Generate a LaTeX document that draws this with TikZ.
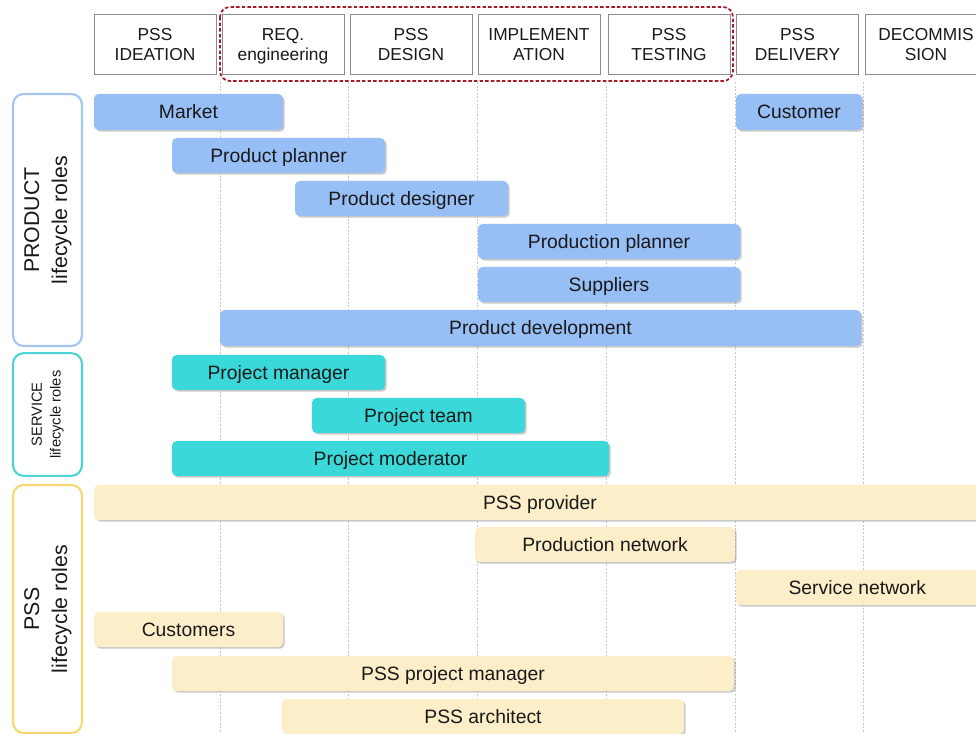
\documentclass[tikz,border=0pt]{standalone}
\usepackage{fontspec}
\setmainfont{Liberation Sans}
\usetikzlibrary{shadows}

\definecolor{barblue}{RGB}{151,191,246}
\definecolor{barteal}{RGB}{58,216,216}
\definecolor{baryellow}{RGB}{253,238,202}
\definecolor{grpblue}{RGB}{164,198,242}
\definecolor{grpteal}{RGB}{78,212,212}
\definecolor{grpyellow}{RGB}{246,216,112}
\definecolor{phaseframe}{RGB}{140,140,140}
\definecolor{gridgrey}{RGB}{200,200,200}
\definecolor{focusred}{RGB}{165,25,40}
\definecolor{ink}{RGB}{25,25,25}

% role bar: style, name, x1, y1, x2, y2, label (pixel units)
\newcommand\rolebar[7]{%
  \node[#1, minimum width={(#5-#3)*0.75pt}, minimum height={(#6-#4)*0.75pt}]
    (#2) at ({(#3+#5)/2},{(#4+#6)/2}) {#7};}

\begin{document}
\begin{tikzpicture}[x=0.75pt,y=-0.75pt,
  phase/.style={draw=phaseframe, line width=0.7pt, fill=white, align=center,
    minimum width=91.5pt, minimum height=45pt, inner sep=0pt, text=ink,
    font=\fontsize{13}{15.5}\selectfont},
  barbase/.style={rounded corners=3.5pt, inner sep=0pt, text=ink,
    text height=13pt, text depth=3pt,
    font=\fontsize{14.5}{16}\selectfont,
    drop shadow={shadow xshift=1.3pt, shadow yshift=-1.3pt, opacity=0.35, fill=black!60}},
  bluebar/.style={barbase, fill=barblue},
  tealbar/.style={barbase, fill=barteal},
  yellowbar/.style={barbase, fill=baryellow},
  group/.style={draw, line width=1.6pt, rounded corners=8pt, fill=white,
    inner sep=0pt, align=center, text=ink},
  gridline/.style={draw=gridgrey, line width=0.5pt, dash pattern=on 1.5pt off 1.2pt}
]
\useasboundingbox (0,0) rectangle (976,734);

% phase separators
\foreach \gx in {220,348,477,606,735,863}
  \draw[gridline] (\gx,82) -- (\gx,734);

% lifecycle phases
\node[phase] (ideation) at (155,44.5) {PSS\\IDEATION};
\node[phase] (reqeng)   at (283,44.5) {REQ.\\\raisebox{0pt}[\height][0pt]{engineering}};
\node[phase] (design)   at (411,44.5) {PSS\\DESIGN};
\node[phase] (impl)     at (539,44.5) {IMPLEMENT\\ATION};
\node[phase] (testing)  at (669,44.5) {PSS\\TESTING};
\node[phase] (delivery) at (797.5,44.5) {PSS\\DELIVERY};
\node[phase] (decomm)   at (926,44.5) {DECOMMIS\\SION};

% development phases frame
\draw[focusred, line width=1.3pt, dash pattern=on 2.6pt off 1.6pt, rounded corners=7.5pt]
  (220,7) rectangle (733,81);

% role groups
\node[group, draw=grpblue, minimum width=51.75pt, minimum height=189pt] (gproduct) at (47.5,220)
  {\rotatebox{90}{\fontsize{16}{21}\selectfont\begin{tabular}{@{}c@{}}PRODUCT\\lifecycle roles\end{tabular}}};
\node[group, draw=grpteal, minimum width=51.75pt, minimum height=92pt] (gservice) at (47.5,414.5)
  {\rotatebox{90}{\fontsize{11}{14}\selectfont\begin{tabular}{@{}c@{}}SERVICE\\lifecycle roles\end{tabular}}};
\node[group, draw=grpyellow, minimum width=51.75pt, minimum height=186pt] (gpss) at (47.5,609)
  {\rotatebox{90}{\fontsize{16}{21}\selectfont\begin{tabular}{@{}c@{}}PSS\\lifecycle roles\end{tabular}}};

% product lifecycle roles
\rolebar{bluebar}{market}{94}{94}{283}{130}{Market}
\rolebar{bluebar}{customer}{736}{94}{862}{130}{Customer}
\rolebar{bluebar}{pplanner}{172}{138}{385}{173}{Product planner}
\rolebar{bluebar}{pdesigner}{295}{181}{508}{216}{Product designer}
\rolebar{bluebar}{prodplanner}{478}{224}{740}{259}{Production planner}
\rolebar{bluebar}{suppliers}{478}{267}{740}{302}{Suppliers}
\rolebar{bluebar}{pdev}{220}{310}{861}{346}{Product development}

% service lifecycle roles
\rolebar{tealbar}{projmgr}{172}{355}{385}{390}{Project manager}
\rolebar{tealbar}{projteam}{312}{398}{525}{433}{Project team}
\rolebar{tealbar}{projmod}{172}{441}{609}{476}{Project moderator}

% PSS lifecycle roles
\rolebar{yellowbar}{provider}{94}{485}{1010}{520}{\hspace*{-18pt}PSS provider}
\rolebar{yellowbar}{prodnet}{475}{527}{735}{562}{Production network}
\rolebar{yellowbar}{servnet}{736}{570}{1000}{605}{\hspace*{-16pt}Service network}
\rolebar{yellowbar}{customers}{94}{612}{283}{647}{Customers}
\rolebar{yellowbar}{pssmgr}{172}{656}{734}{691}{PSS project manager}
\rolebar{yellowbar}{pssarch}{282}{699}{684}{734}{PSS architect}
\end{tikzpicture}
\end{document}
